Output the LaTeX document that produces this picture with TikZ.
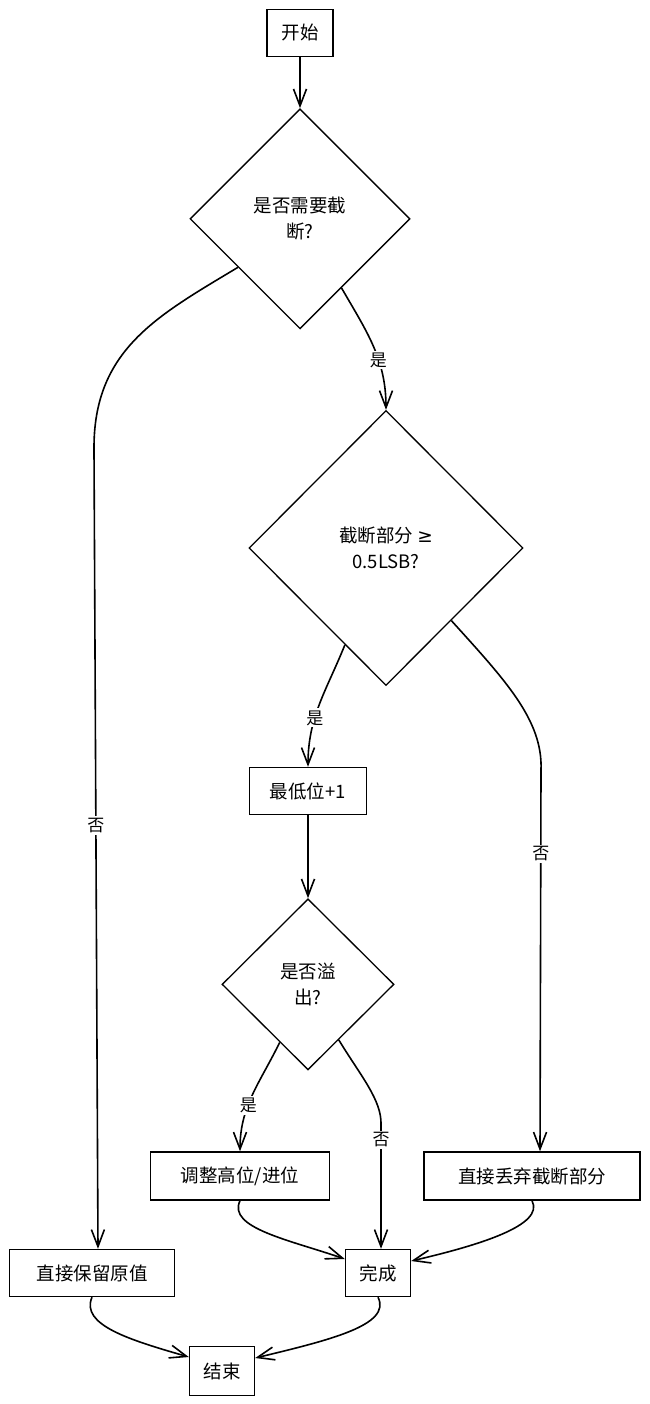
\documentclass[tikz,border=0pt]{standalone}
\usepackage{fontspec}
\setmainfont{Noto Sans CJK SC}
\newfontfamily\symfont{DejaVu Sans}
\usetikzlibrary{positioning, arrows.meta, shapes.geometric}

\begin{document}
\begin{tikzpicture}[x=1pt, y=1pt,
    every node/.style={font=\fontsize{18.5}{26}\selectfont, align=center},
    flowbox/.style={draw, line width=1.4pt, minimum height=47pt, inner sep=0pt},
    decision/.style={draw, diamond, line width=1.3pt, inner sep=0pt},
    lbl/.style={fill=white, inner sep=2pt, font=\fontsize{17}{17}\selectfont},
    flow/.style={line width=1.6pt, -{Straight Barb[length=17pt, width=13pt]}}]
    \useasboundingbox (0,0) rectangle (649,-1404);
    \node[flowbox, minimum width=66pt] (start) at (300,-33) {开始};
    \node[decision, minimum width=220pt, minimum height=220pt, below=51pt of start] (check) {是否需要截\\断?};
    \node[decision, minimum width=274pt, minimum height=275pt] (range) at (386,-548) {截断部分 {\symfont ≥}\\0.5LSB?};
    \node[flowbox, minimum width=117pt] (plus1) at (308,-791) {最低位+1};
    \node[decision, minimum width=172pt, minimum height=171pt, below=83pt of plus1] (ovf) {是否溢\\出?};
    \node[flowbox, minimum width=179pt, minimum height=48pt] (adjust) at (240,-1176) {调整高位/进位};
    \node[flowbox, minimum width=216pt, minimum height=48pt] (drop) at (532,-1176) {直接丢弃截断部分};
    \node[flowbox, minimum width=165pt] (keep) at (92,-1273) {直接保留原值};
    \node[flowbox, minimum width=65pt] (done) at (378,-1273) {完成};
    \node[flowbox, minimum width=65pt, minimum height=49pt] (finish) at (222,-1371) {结束};

    \draw[flow] (start) -- (check);
    \draw[flow] (check.-59) to[out=-60, in=90] node[lbl, pos=0.62] {是} (range.north);
    \draw[flow] (check.218) .. controls (157,-316) and (93,-350) .. (94,-450)
        -- node[lbl, pos=0.47] {否} ([xshift=6pt]keep.north);
    \draw[flow] (range.247) to[out=-112, in=90] node[lbl, pos=0.62] {是} (plus1.north);
    \draw[flow] (range.-48) .. controls (505,-680) and (543,-720) .. (541,-770)
        -- node[lbl, pos=0.22] {否} ([xshift=8pt]drop.north);
    \draw[flow] (plus1) -- (ovf);
    \draw[flow] (ovf.244) to[out=-116, in=90] node[lbl, pos=0.6] {是} (adjust.north);
    \draw[flow] (ovf.-61) .. controls (360,-1075) and (382,-1100) .. (381,-1125)
        -- node[lbl, pos=0.12] {否} ([xshift=3pt]done.north);
    \draw[flow] (adjust.south) .. controls (227,-1228) and (290,-1240) .. ([yshift=14pt]done.west);
    \draw[flow] (drop.south) .. controls (545,-1225) and (480,-1245) .. ([yshift=12pt]done.east);
    \draw[flow] (keep.south) .. controls (80,-1325) and (130,-1340) .. ([yshift=14pt]finish.west);
    \draw[flow] (done.south) .. controls (392,-1325) and (330,-1340) .. ([yshift=13pt]finish.east);
\end{tikzpicture}
\end{document}
